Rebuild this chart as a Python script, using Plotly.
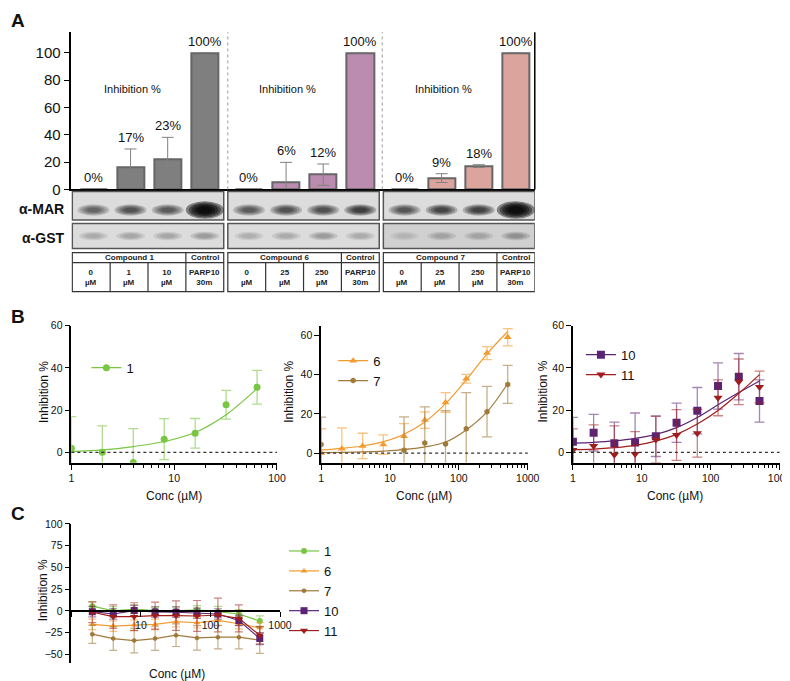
import plotly.graph_objects as go

# The captured page is slightly rescaled (and offset by the 8px body margin): map reference pixels.
OFF = 8
W, H = 790, 681
S, CX, CY = 0.978, 3.0, 5.0
def fx(r): return ((r - CX) / S - OFF) / W
def fy(r): return 1 - ((r - CY) / S - OFF) / H

FONT = "Arial, Liberation Sans, Helvetica, sans-serif"

# ---------------- Panel A data ----------------
a_groups = ["Compound 1", "Compound 6", "Compound 7"]
a_conc_labels = [["0", "1", "10"], ["0", "25", "250"], ["0", "25", "250"]]
a_values = [[0, 16.4, 22.3, 100], [0, 5.1, 10.8, 100], [0, 8.3, 17.1, 100]]
a_errors = [[None, 13.2, 15.8, None], [None, 14.7, 7.8, None], [None, 3.2, 1.0, None]]
a_labels = [["0%", "17%", "23%", "100%"], ["0%", "6%", "12%", "100%"], ["0%", "9%", "18%", "100%"]]
a_colors = ["#7f7f7f", "#bb8cb0", "#dba59d"]
mar_intensity = [[0.55, 0.68, 0.62, 1.0], [0.6, 0.68, 0.7, 0.85], [0.65, 0.78, 0.82, 1.0]]
gst_intensity = [[0.22, 0.25, 0.25, 0.3], [0.2, 0.22, 0.3, 0.22], [0.14, 0.22, 0.22, 0.32]]

# ---------------- Panel B data ----------------
conc = [1, 2, 4, 8, 16, 32, 64, 128, 256, 512]
c1_y = [1.9, 0.0, -4.8, 6.2, 9.0, 22.5, 30.8]
c1_err = [15, 12.5, 16, 9.7, 7, 6.8, 8]
c1_fit = [0.3, 1.1, 2.7, 5.1, 9.4, 17.8, 30.2]

c6_y = [0, 2.2, 3.6, 4.3, 8.5, 16.8, 25.8, 37.9, 51, 59.1]
c6_err = [12.4, 10.6, 6.5, 5, 6.5, 4.2, 5, 2.2, 3.3, 4.4]
c6_fit = [1.6, 2.4, 3.6, 5.8, 9.6, 15.8, 25.2, 37.4, 50.6, 62]

c7_y = [4.3, None, None, None, 1.4, 5.1, 4.6, 12.4, 21.1, 35]
c7_err = [14, None, None, None, 17, 18.5, 17, 18.4, 12.9, 9.7]
c7_fit = [0.2, 0.35, 0.6, 1.0, 1.7, 3.1, 5.6, 11.8, 21, 35.5]

c10_y = [5, 9.3, 4.3, 4.6, 7.6, 14, 19.7, 31.4, 35.8, 24.3]
c10_err = [11.5, 8.7, 10, 14, 9.6, 9.3, 11, 11, 11, 10]
c10_fit = [4.3, 4.7, 5.4, 6.6, 8.5, 11.7, 16.5, 22.5, 28.3, 33.8]

c11_y = [1.1, 3, -1.2, -0.8, 6, 8.2, 9, 25.8, 33.4, 30.9]
c11_err = [10, 10, 13.7, 10.6, 11, 12, 11.3, 8.5, 10.8, 7.5]
c11_fit = [1.2, 1.5, 2.2, 3.3, 5.3, 8.5, 13.4, 19.8, 27.9, 36.8]

# ---------------- Panel C data ----------------
concC = [2, 4, 8, 16, 32, 64, 128, 256, 512]
C_series = {
    "1": ([5.5, 0, 2, 0.4, 0, 1.2, -0.8, -3.5, -11.6], [5, 5, 5, 4, 5, 5, 6, 5, 6]),
    "6": ([-15.5, -17.4, -16.3, -15.5, -12.4, -13.6, -10.9, -14.7, -19.4], [6, 6, 6, 6, 6, 6, 6, 6, 6]),
    "7": ([-26.7, -31.8, -34.1, -31.8, -27.9, -31, -30.2, -30.2, -33.7], [10.5, 13.6, 14, 13.6, 13, 14, 13.5, 13.5, 15]),
    "10": ([-0.8, -3.5, 0.4, -1.2, -1.5, -2.7, -3.5, -10.9, -31.8], [6, 6, 6, 6, 6, 6, 6, 6, 7]),
    "11": ([-1.5, -6.6, -6.6, -5.4, -5.4, -5.8, -4.7, -8.5, -27.9], [12, 13.6, 16, 15.5, 17, 17.8, 19.4, 15.5, 10]),
}

colors = {"1": "#78c641", "6": "#f49b30", "7": "#a07a3a", "10": "#5b2374", "11": "#a01d1d"}
err_colors = {"1": "rgba(120,198,65,0.6)", "6": "rgba(244,155,48,0.6)", "7": "rgba(160,122,58,0.6)",
              "10": "rgba(91,35,116,0.55)", "11": "rgba(160,29,29,0.55)"}
symbols = {"1": "circle", "6": "triangle-up", "7": "hexagon", "10": "square", "11": "triangle-down"}
sizes = {"1": 7, "6": 7, "7": 6, "10": 8, "11": 8}

fig = go.Figure()
shapes = []
ann = []

def pann(x, y, text, size, **kw):
    d = dict(x=fx(x), y=fy(y), xref="paper", yref="paper", text=text, showarrow=False,
             xanchor="center", yanchor="middle", font=dict(size=size, color="#111"))
    d.update(kw)
    ann.append(d)

# ---------------- Panel A ----------------
step = 4.19
positions = []
for g in range(3):
    xs = [g * step + i for i in range(4)]
    positions += xs
    fig.add_trace(go.Bar(
        x=xs, y=a_values[g], width=0.73, xaxis="x", yaxis="y", showlegend=False,
        marker=dict(color=a_colors[g], line=dict(color="#666666", width=2)),
        error_y=dict(type="data", array=a_errors[g], color="#808080", thickness=1, width=6, visible=True)))
    for i in range(4):
        top = a_values[g][i] + (a_errors[g][i] or 0)
        ann.append(dict(x=xs[i], y=top, xref="x", yref="y", text=a_labels[g][i], showarrow=False,
                        xanchor="center", yanchor="bottom", yshift=2, font=dict(size=13, color="#111")))
    ann.append(dict(x=g * step + 1.05, y=fy(88), xref="x", yref="paper", text="Inhibition %",
                    xanchor="center", yanchor="middle",
                    showarrow=False, font=dict(size=11, color="#111")))

    # blots
    left, right = xs[0] - 0.57, xs[3] + 0.51
    shapes.append(dict(type="rect", xref="x", yref="paper", x0=left, x1=right, y0=fy(218.5), y1=fy(190),
                       fillcolor="#dcdcdc", line=dict(color="#555555", width=1.5), layer="above"))
    gst_bg = "#dcdcdc" if g < 2 else "#d0d0d0"
    shapes.append(dict(type="rect", xref="x", yref="paper", x0=left, x1=right, y0=fy(247), y1=fy(222),
                       fillcolor=gst_bg, line=dict(color="#555555", width=1.5), layer="above"))
    for i in range(4):
        I = mar_intensity[g][i]
        big = I > 0.95
        hw = 0.38 if big else 0.32
        hh = 6.5 if big else 4.2
        for sc in [1.35, 1.15, 0.95, 0.75, 0.55]:
            shapes.append(dict(type="circle", xref="x", yref="paper",
                               x0=xs[i] - hw * sc, x1=xs[i] + hw * sc,
                               y0=fy(208.5 + hh * sc), y1=fy(208.5 - hh * sc),
                               fillcolor="black", opacity=min(1, 0.26 * I + (0.15 if big else 0)),
                               line=dict(width=0), layer="above"))
        J = gst_intensity[g][i]
        for sc in [1.3, 1.0, 0.7]:
            shapes.append(dict(type="circle", xref="x", yref="paper",
                               x0=xs[i] - 0.3 * sc, x1=xs[i] + 0.3 * sc,
                               y0=fy(234.5 + 3.2 * sc), y1=fy(234.5 - 3.2 * sc),
                               fillcolor="black", opacity=0.35 * J,
                               line=dict(width=0), layer="above"))
    # table
    cw = (right - left) / 4
    shapes.append(dict(type="rect", xref="x", yref="paper", x0=left, x1=right, y0=fy(290), y1=fy(251),
                       fillcolor="white", line=dict(color="#333333", width=1.2), layer="above"))
    shapes.append(dict(type="line", xref="x", yref="paper", x0=left, x1=right, y0=fy(261), y1=fy(261),
                       line=dict(color="#333333", width=1.2), layer="above"))
    for c in range(1, 4):
        y1 = fy(251) if c == 3 else fy(261)
        shapes.append(dict(type="line", xref="x", yref="paper", x0=left + c * cw, x1=left + c * cw,
                           y0=fy(290), y1=y1, line=dict(color="#333333", width=1.2), layer="above"))
    tfont = dict(size=8, color="#222")
    ann.append(dict(x=left + 1.5 * cw, y=fy(256), xref="x", yref="paper", text="<b>" + a_groups[g] + "</b>",
                    xanchor="center", yanchor="middle", showarrow=False, font=tfont))
    ann.append(dict(x=left + 3.5 * cw, y=fy(256), xref="x", yref="paper", text="<b>Control</b>",
                    xanchor="center", yanchor="middle", showarrow=False, font=tfont))
    for c in range(3):
        ann.append(dict(x=left + (c + 0.5) * cw, y=fy(275.5), xref="x", yref="paper",
                        text="<b>" + a_conc_labels[g][c] + "</b><br><b>µM</b>",
                        xanchor="center", yanchor="middle", showarrow=False, font=tfont))
    ann.append(dict(x=left + 3.5 * cw, y=fy(275.5), xref="x", yref="paper",
                    text="<b>PARP10</b><br><b>30m</b>", xanchor="center", yanchor="middle",
                    showarrow=False, font=tfont))

for xv in [3.62, 7.78]:
    shapes.append(dict(type="line", xref="x", yref="paper", x0=xv, x1=xv, y0=fy(188), y1=fy(31),
                       line=dict(color="#9a9a9a", width=1, dash="dot")))
shapes.append(dict(type="line", xref="paper", yref="paper", x0=fx(533), x1=fx(533), y0=fy(188), y1=fy(31),
                   line=dict(color="black", width=1.5)))

pann(66, 208, "<b>α-MAR</b>", 14, xanchor="right")
pann(66, 236, "<b>α-GST</b>", 14, xanchor="right")

# ---------------- Panel B ----------------
def add_series(key, xs, ys, errs, fit, xa, ya, leg):
    fig.add_trace(go.Scatter(x=xs[:len(fit)], y=fit, mode="lines",
                             line=dict(color=colors[key], width=1.2, shape="spline"),
                             xaxis=xa, yaxis=ya, showlegend=False, hoverinfo="skip"))
    fig.add_trace(go.Scatter(x=xs[:len(ys)], y=ys, mode="markers", xaxis=xa, yaxis=ya, showlegend=False,
                             marker=dict(symbol=symbols[key], size=sizes[key], color=colors[key]),
                             error_y=dict(type="data", array=errs, color=err_colors[key], thickness=1.3, width=5)))
    fig.add_trace(go.Scatter(x=[None], y=[None], mode="lines+markers", name=key, legend=leg,
                             xaxis=xa, yaxis=ya,
                             line=dict(color=colors[key], width=1.2),
                             marker=dict(symbol=symbols[key], size=sizes[key], color=colors[key])))

add_series("1", conc, c1_y, c1_err, c1_fit, "x2", "y2", "legend")
add_series("6", conc, c6_y, c6_err, c6_fit, "x3", "y3", "legend2")
add_series("7", conc, c7_y, c7_err, c7_fit, "x3", "y3", "legend2")
add_series("10", conc, c10_y, c10_err, c10_fit, "x4", "y4", "legend3")
add_series("11", conc, c11_y, c11_err, c11_fit, "x4", "y4", "legend3")

# ---------------- Panel C ----------------
for key, (ys, es) in C_series.items():
    fig.add_trace(go.Scatter(x=concC, y=ys, mode="lines+markers", name=key, legend="legend4",
                             xaxis="x5", yaxis="y5",
                             line=dict(color=colors[key], width=1.2),
                             marker=dict(symbol=symbols[key], size=sizes[key] - 1, color=colors[key]),
                             error_y=dict(type="data", array=es, color=err_colors[key], thickness=1.2, width=4)))

axis_common = dict(showline=True, linecolor="black", linewidth=1.5, showgrid=False, zeroline=False,
                   ticks="outside", tickcolor="black", tickwidth=1.3, tickfont=dict(size=10.5, color="#111"))

def log_minor(maxdec):
    vals = []
    for d in range(maxdec):
        for m in range(2, 10):
            vals.append(m * 10 ** d)
    return vals

layout_axes = {}
layout_axes["xaxis"] = dict(domain=[fx(71), fx(533)], range=[-0.595, 11.89], anchor="y",
                            tickvals=positions, ticks="outside", ticklen=4, tickwidth=1, tickcolor="#333",
                            showticklabels=False, showline=True, linecolor="black", linewidth=1.5,
                            showgrid=False, zeroline=False)
layout_axes["yaxis"] = dict(domain=[fy(188), fy(31)], range=[0, 115], anchor="x",
                            tickvals=[0, 20, 40, 60, 80, 100], ticklen=6,
                            **{**axis_common, "tickfont": dict(size=15, color="#111")})

b_specs = [("2", 71, 276, 2, [-5, 60]), ("3", 320, 526, 3, [-5, 65]), ("4", 571, 777, 3, [-5, 60])]
for n, x0, x1, dec, yr in b_specs:
    tv = [10 ** d for d in range(dec + 1)]
    layout_axes["xaxis" + n] = dict(domain=[fx(x0), fx(x1)], type="log", range=[0, dec], anchor="y" + n,
                                    tickvals=tv, ticktext=[str(v) for v in tv], ticklen=5,
                                    minor=dict(tickvals=log_minor(dec), ticks="outside", ticklen=3,
                                               tickcolor="black", tickwidth=1),
                                    **axis_common)
    layout_axes["yaxis" + n] = dict(domain=[fy(461), fy(324)], range=yr, anchor="x" + n,
                                    tickvals=[0, 20, 40, 60], ticklen=5, **axis_common)
    shapes.append(dict(type="line", xref="x" + n + " domain", yref="y" + n, x0=0, x1=1, y0=0, y1=0,
                       line=dict(color="#333", width=1.3, dash="dot")))

yC_dom = [fy(661), fy(522)]
yC_rng = [-60, 100]
zero_frac = yC_dom[0] + (0 - yC_rng[0]) / (yC_rng[1] - yC_rng[0]) * (yC_dom[1] - yC_dom[0])
layout_axes["xaxis5"] = dict(domain=[fx(71), fx(279)], type="log", range=[0, 3], anchor="free",
                             position=zero_frac, tickvals=[1, 10, 100, 1000], ticktext=["", "10", "100", "1000"],
                             ticklen=5, **axis_common)
layout_axes["yaxis5"] = dict(domain=yC_dom, range=yC_rng, anchor="x5",
                             tickvals=[-50, -25, 0, 25, 50, 75, 100], ticklen=5, **axis_common)

for xc in [173, 423, 673]:
    pann(xc, 494, "Conc (µM)", 12)
for xc in [43, 288, 541]:
    pann(xc, 390, "Inhibition %", 12, textangle=-90)
pann(176, 672, "Conc (µM)", 12)
pann(43, 588, "Inhibition %", 12, textangle=-90)

for letter, yc in [("A", 19), ("B", 315), ("C", 512)]:
    pann(18, yc, "<b>" + letter + "</b>", 19)

leg_common = dict(bgcolor="rgba(0,0,0,0)", font=dict(size=13, color="#111"), itemwidth=30,
                  xanchor="left", yanchor="middle", tracegroupgap=0)

fig.update_layout(
    width=W, height=H, margin=dict(l=0, r=0, t=0, b=0),
    paper_bgcolor="white", plot_bgcolor="white",
    font=dict(family=FONT, color="#111"),
    barmode="overlay", bargap=0,
    shapes=shapes, annotations=ann,
    legend=dict(x=fx(86), y=fy(366), **leg_common),
    legend2=dict(x=fx(332), y=fy(369), **leg_common),
    legend3=dict(x=fx(579), y=fy(363), **leg_common),
    legend4=dict(x=fx(283), y=fy(589), **leg_common),
    **layout_axes,
)

fig.write_html("out.html")
